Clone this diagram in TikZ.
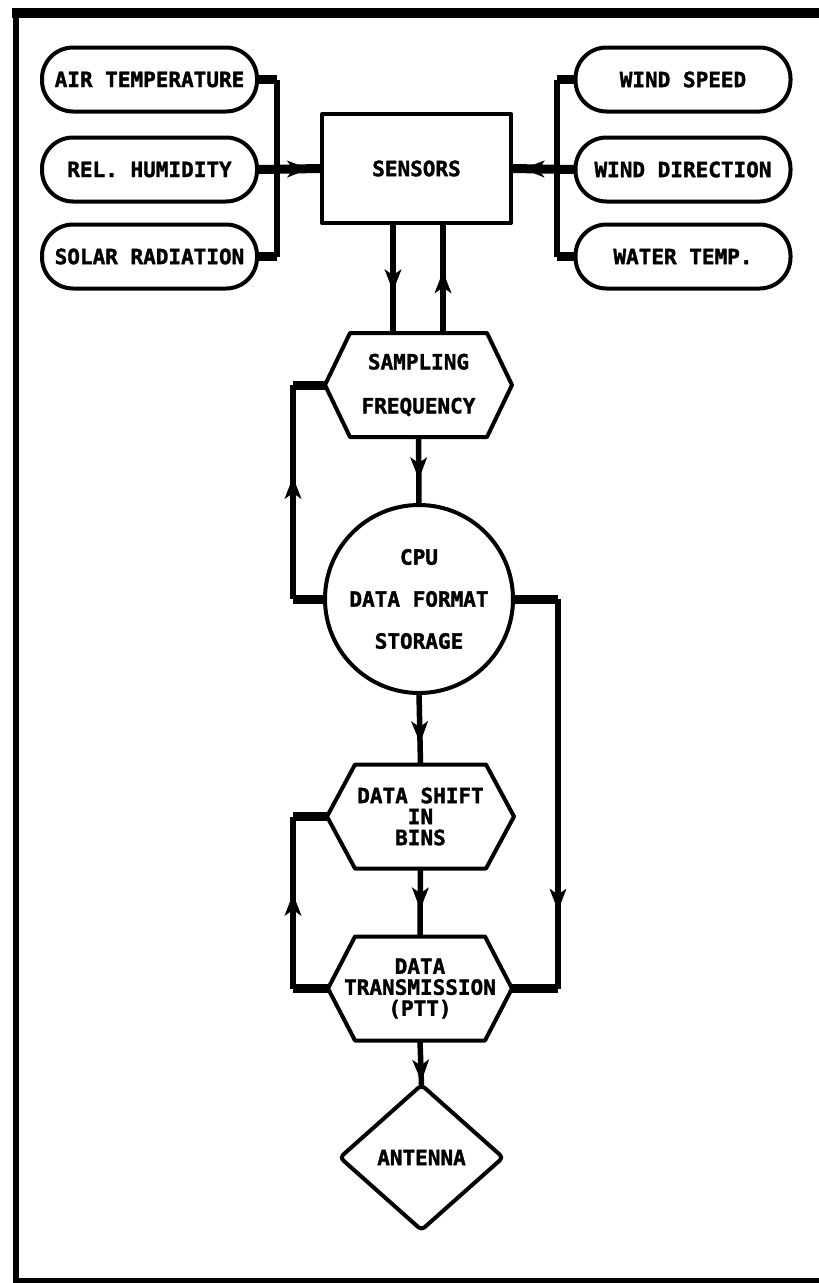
\documentclass[tikz,border=0pt]{standalone}
\usepackage{fontspec}
\newfontfamily\plotfont[BoldFeatures={FakeBold=1.6}]{DejaVu Sans Mono}
\usetikzlibrary{shapes.geometric,arrows.meta,decorations.markings}
\newcommand\hexoutline[2]{\draw[outline] (#1.west) -- ([xshift=#2]#1.north west) -- ([xshift=-#2]#1.north east) -- (#1.east) -- ([xshift=-#2]#1.south east) -- ([xshift=#2]#1.south west) -- cycle;}
\tikzset{
  lbl/.style={font=\plotfont\bfseries\fontsize{21pt}{21pt}\selectfont, align=center, inner sep=0pt, outer sep=0pt},
  outline/.style={draw=black, line width=4pt, line join=round},
  pill/.style={lbl, outline, rounded corners=31pt, minimum width=215pt, minimum height=64pt},
  sensbox/.style={lbl, outline, minimum width=189pt, minimum height=109pt},
  hexbox/.style={lbl, minimum width=#1, minimum height=104pt},
  cpubox/.style={lbl, outline, circle, minimum size=188pt},
  antbox/.style={lbl, outline, diamond, minimum width=163pt, minimum height=145pt, rounded corners=4pt},
  stubline/.style={line width=9pt},
  busline/.style={line width=5.5pt},
  midarrow/.style={postaction={decorate, decoration={markings, mark=at position #1 with {\arrow[line width=1pt]{Stealth[length=22pt,width=17pt,inset=6pt]}}}}},
}
\begin{document}
\begin{tikzpicture}[x=1pt,y=-1pt]
\useasboundingbox (0,0) rectangle (819,1283);
% frame
\draw[line width=10pt] (12,13) -- (819,13);
\draw[line width=6pt] (15.5,8) -- (15.5,1283);
\draw[line width=5pt] (13,1280.5) -- (819,1280.5);

% input pills
\node[pill] (air) at (149.5,79.5) {AIR TEMPERATURE};
\node[pill] (hum) at (149.5,169.5) {REL. HUMIDITY};
\node[pill] (sol) at (149.5,256.5) {SOLAR RADIATION};
\node[pill] (ws) at (683,79.5) {WIND SPEED};
\node[pill] (wd) at (683,169.5) {WIND DIRECTION};
\node[pill] (wt) at (683,256.5) {WATER TEMP.};

% main nodes
\node[sensbox] (sens) at (416.5,168.5) {SENSORS};
\node[hexbox=187pt] (samp) at (418.5,385) {SAMPLING\\[23pt]FREQUENCY};
\hexoutline{samp}{25pt}
\node[cpubox] (cpu) at (419,599) {CPU\\[21pt]DATA FORMAT\\[21pt]STORAGE};
\node[hexbox=187pt] (shift) at (420.5,816.5) {DATA SHIFT\\IN\\BINS};
\hexoutline{shift}{28pt}
\node[hexbox=184pt] (trans) at (420,988.5) {DATA\\TRANSMISSION\\(PTT)};
\hexoutline{trans}{27pt}
\node[antbox] (ant) at (421.5,1157.5) {ANTENNA};

% bus coordinates
\coordinate (lbx) at (277,0);
\coordinate (rbx) at (557,0);
\coordinate (dnx) at (393,0);
\coordinate (upx) at (443,0);
\coordinate (llx) at (293,0);
\coordinate (rlx) at (558,0);

% left inputs
\draw[stubline] (air.east) -- (air.east -| lbx);
\draw[stubline] (sol.east) -- (sol.east -| lbx);
\draw[busline] (air.east -| lbx) -- (sol.east -| lbx);
\draw[stubline, midarrow=0.8] (hum.east) -- (sens.west);

% right inputs
\draw[stubline] (ws.west) -- (ws.west -| rbx);
\draw[stubline] (wt.west) -- (wt.west -| rbx);
\draw[busline] (ws.west -| rbx) -- (wt.west -| rbx);
\draw[stubline, midarrow=0.82] (wd.west) -- (sens.east);

% sensors <-> sampling
\draw[busline, midarrow=0.62] (sens.south -| dnx) -- (samp.north -| dnx);
\draw[busline, midarrow=0.56] (samp.north -| upx) -- (sens.south -| upx);

% sampling -> cpu
\draw[busline, midarrow=0.62] (samp.south) -- (cpu.north);

% cpu loop to sampling
\draw[stubline] (cpu.west) -- (cpu.west -| llx);
\draw[stubline] (samp.west) -- (samp.west -| llx);
\draw[busline, midarrow=0.57] (cpu.west -| llx) -- (samp.west -| llx);

% cpu -> transmission (right)
\draw[stubline] (cpu.east) -- (cpu.east -| rlx);
\draw[stubline] (trans.east) -- (trans.east -| rlx);
\draw[busline, midarrow=0.8] (cpu.east -| rlx) -- (trans.east -| rlx);

% cpu -> shift -> trans
\draw[busline, midarrow=0.7] (cpu.south) -- (shift.north);
\draw[busline, midarrow=0.6] (shift.south) -- (trans.north);

% trans loop to shift
\draw[stubline] (trans.west) -- (trans.west -| llx);
\draw[stubline] (shift.west) -- (shift.west -| llx);
\draw[busline, midarrow=0.55] (trans.west -| llx) -- (shift.west -| llx);

% trans -> antenna
\draw[busline, midarrow=0.92] (trans.south) -- (ant.north);
\end{tikzpicture}
\end{document}
